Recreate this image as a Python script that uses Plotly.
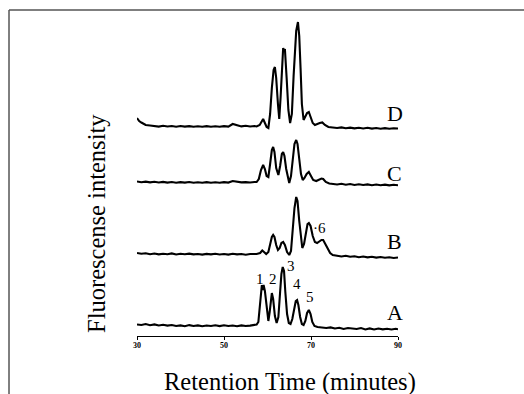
import plotly.graph_objects as go

# ---------------- data ----------------
time_A = list(range(30, 58)) + [57.5, 57.9, 58.2, 58.5, 58.7, 58.9, 59.1, 59.4, 59.8, 60.2,
          60.5, 60.8, 61.0, 61.3, 61.7, 62.1, 62.5, 62.9, 63.2, 63.5, 63.8, 64.1, 64.5, 64.9,
          65.3, 65.7, 66.1, 66.5, 66.8, 67.1, 67.5, 67.9, 68.3, 68.7, 69.1, 69.5, 69.9, 70.3,
          70.8, 71.5] + [72.5 + i for i in range(18)] + [90]
signal_A = [11.5, 11, 12, 10.8, 11.6, 10.5, 11.2, 10.4, 11, 10, 10.6, 9.8, 10.9, 10, 10.6, 9.8,
            10.5, 10, 10.7, 9.9, 10.8, 10, 10.5, 9.8, 10.6, 10, 10.4, 11,
            11.5, 14, 30, 47, 51, 46, 51, 45, 28, 15,
            24, 39, 43, 37, 20, 13, 19, 44, 62, 69, 65, 44, 22, 13,
            12, 17, 28, 35, 36, 31, 19, 12, 11, 15, 23, 26, 22, 14,
            10, 9,
            8.5, 8, 8.6, 7.5, 8.2, 7, 8, 7.4, 7, 8, 6.6, 7.6, 6.5, 7.5, 6.6, 7.2, 6.5, 7.2, 6.8]

time_B = list(range(30, 58)) + [57.5, 58.3, 58.8, 59.2, 59.7, 60.2, 60.6, 61.0, 61.3, 61.6,
          62.0, 62.4, 62.8, 63.2, 63.6, 64.0, 64.5, 65.0, 65.4, 65.8, 66.2, 66.6, 66.9, 67.3,
          67.7, 68.0, 68.4, 68.8, 69.2, 69.5, 69.9, 70.4, 70.9, 71.4, 71.9, 72.4, 72.8, 73.3,
          73.8, 74.4, 75.0, 76] + list(range(77, 91))
signal_B = [83, 82.2, 82.8, 81.8, 82.5, 81.6, 82.3, 81.8, 82.6, 81.5, 82.2, 81.7, 82.4, 81.6,
            82, 81.4, 82.1, 81.6, 82.3, 81.5, 82, 81.4, 82.2, 81.6, 82, 81.3, 82, 81.8,
            82, 83, 85.5, 84, 82, 84, 92, 99, 101, 99,
            91, 86, 88, 93, 94, 91, 84, 81, 85, 105, 128, 139, 135, 115,
            95, 88, 92, 104, 112, 113, 110, 100, 94, 93, 95, 96, 96, 92,
            87, 83, 81, 80,
            79.5, 80.2, 79.2, 79.8, 78.8, 79.5, 78.6, 79.2, 78.4, 79, 78.2, 78.8, 78, 78.5]

time_C = list(range(30, 58)) + [57.5, 58.0, 58.5, 59.0, 59.4, 59.8, 60.2, 60.6, 61.0, 61.3,
          61.6, 62.0, 62.5, 62.9, 63.3, 63.6, 63.9, 64.3, 64.7, 65.0, 65.4, 65.8, 66.2, 66.6,
          66.9, 67.3, 67.7, 68.1, 68.5, 69.0, 69.5, 70.0, 70.5, 71.2, 71.8, 72.4, 72.8, 73.4,
          74.2, 75] + list(range(76, 91))
signal_C = [154.5, 153.8, 154.4, 153.6, 154.2, 153.5, 154.1, 153.4, 154, 153.3, 153.9, 153.4,
            154, 153.2, 153.8, 153.3, 153.9, 153.2, 153.7, 153.3, 153.9, 153.4, 155, 154.5,
            153.6, 153.9, 153.5, 154,
            154, 157, 166, 171, 167, 160, 159, 172, 186, 189,
            184, 168, 161, 170, 182, 184, 180, 167, 157, 153, 160, 178, 192, 196,
            192, 177, 162, 156, 158, 162, 164, 160, 156, 155, 156, 157.5, 157, 154,
            152.5, 152,
            151.5, 152.2, 151.3, 152, 151, 151.8, 151, 151.6, 150.8, 151.5, 150.8, 151.4,
            150.6, 151.2, 150.8]

time_D = [30, 30.5, 31, 31.5, 32, 33] + list(range(34, 58)) + [57.5, 58.2, 58.7, 59.0, 59.4,
          59.8, 60.2, 60.6, 61.0, 61.4, 61.7, 62.0, 62.4, 62.7, 63.0, 63.3, 63.6, 63.8, 64.0,
          64.4, 64.8, 65.2, 65.6, 66.0, 66.3, 66.6, 67.0, 67.3, 67.6, 67.9, 68.3, 68.6, 69.1,
          69.5, 69.9, 70.4, 70.9, 71.4, 72.0, 72.6, 73.2, 74.0, 75] + list(range(76, 91))
signal_D = [218, 215, 213.5, 212, 211, 210.5,
            210, 209.4, 210.2, 209.5, 210, 209.3, 210, 209.4, 209.9, 209.2, 209.8, 209.3,
            209.9, 209.3, 209.8, 209.2, 209.9, 209.4, 212, 211, 209.6, 210.2, 209.5, 210,
            209.5, 211, 215, 217, 213,
            209, 208, 222, 248, 266, 269, 258, 232, 217, 238, 272, 288, 285, 287,
            258, 226, 213, 222, 260, 290, 305, 314, 300, 268, 232, 216, 219, 223,
            224, 219, 213, 211, 212, 213, 213.5, 211, 209, 208.5,
            208, 208.6, 207.8, 208.4, 207.6, 208.2, 207.5, 208.2, 207.4, 208, 207.3, 207.9,
            207.2, 207.8, 207.5]

trace_names = ["A", "B", "C", "D"]
trace_label_y = [24, 95, 163, 223]
peak_labels = ["1", "2", "3", "4", "5", "·6"]
peak_label_x = [58.3, 61.3, 65.3, 66.8, 69.8, 71.9]
peak_label_y = [57, 57, 70, 52, 39, 108]
x_ticks = [30, 50, 70, 90]

# ---------------- figure ----------------
SERIF = "Liberation Serif, Times New Roman, serif"
fig = go.Figure()
for t, s, n in zip([time_A, time_B, time_C, time_D],
                   [signal_A, signal_B, signal_C, signal_D], trace_names):
    fig.add_trace(go.Scatter(x=t, y=s, mode="lines", name=n,
                             line=dict(color="black", width=2.1), showlegend=False))

annotations = []
for n, y in zip(trace_names, trace_label_y):
    annotations.append(dict(x=89.3, y=y, xref="x", yref="y", text=n, showarrow=False,
                            font=dict(family=SERIF, size=22, color="black"),
                            xanchor="center", yanchor="middle"))
for txt, x, y in zip(peak_labels, peak_label_x, peak_label_y):
    annotations.append(dict(x=x, y=y, xref="x", yref="y", text=txt, showarrow=False,
                            font=dict(family=SERIF, size=15, color="black"),
                            xanchor="center", yanchor="middle"))
annotations.append(dict(x=0.586, y=-0.141, xref="paper", yref="paper",
                        text="Retention Time (minutes)", showarrow=False,
                        font=dict(family=SERIF, size=24.5, color="black"),
                        xanchor="center", yanchor="middle"))
annotations.append(dict(x=-0.153, y=0.344, xref="paper", yref="paper",
                        text="Fluorescense intensity", showarrow=False, textangle=-90,
                        font=dict(family=SERIF, size=24.5, color="black"),
                        xanchor="center", yanchor="middle"))

fig.update_layout(
    width=524, height=394,
    margin=dict(l=137, r=126, t=10, b=58),
    paper_bgcolor="white", plot_bgcolor="white",
    xaxis=dict(range=[30, 90], tickvals=x_ticks, ticktext=[str(v) for v in x_ticks],
               showline=True, linecolor="black", linewidth=1, ticks="outside",
               ticklen=3, tickcolor="black", showgrid=False, zeroline=False,
               ticklabelstandoff=-2,
               tickfont=dict(family=SERIF, size=8, color="black", weight="bold")),
    yaxis=dict(range=[0, 326], visible=False),
    annotations=annotations,
    shapes=[
        dict(type="line", xref="paper", yref="paper", x0=-0.4904, x1=-0.4904, y0=-0.25, y1=1.0,
             line=dict(color="#555555", width=1.5)),
        dict(type="line", xref="paper", yref="paper", x0=-0.4904, x1=1.6, y0=1.0, y1=1.0,
             line=dict(color="#555555", width=1.5)),
    ],
)

fig.write_html("out.html")
